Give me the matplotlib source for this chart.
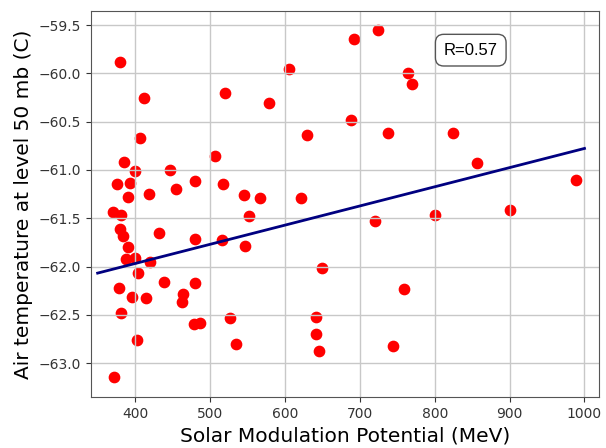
import numpy as np
import matplotlib
matplotlib.use('Agg')
import matplotlib.pyplot as plt

# Solar modulation potential (MeV) and air temperature at 50 mb (C)
phi = [380, 605, 412, 520, 579, 407, 629, 385, 400, 446, 507, 376, 393, 480,
       454, 517, 419, 391, 545, 567, 621, 370, 381, 552, 380, 384, 432, 480,
       516, 547, 390, 388, 400, 420, 404, 649, 378, 439, 480, 396, 415, 464,
       463, 381, 527, 641, 478, 487, 642, 402, 535, 646, 372, 692, 724, 764,
       770, 688, 737, 824, 856, 988, 720, 800, 900, 759, 744]
temp = [-59.88, -59.95, -60.25, -60.20, -60.31, -60.67, -60.64, -60.92, -61.01,
        -61.00, -60.86, -61.15, -61.14, -61.11, -61.20, -61.15, -61.25, -61.28,
        -61.26, -61.29, -61.29, -61.43, -61.47, -61.48, -61.61, -61.68, -61.65,
        -61.71, -61.72, -61.79, -61.80, -61.92, -61.91, -61.95, -62.07, -62.02,
        -62.22, -62.16, -62.17, -62.32, -62.33, -62.28, -62.37, -62.48, -62.53,
        -62.52, -62.60, -62.58, -62.70, -62.76, -62.80, -62.87, -63.14, -59.64,
        -59.55, -60.00, -60.11, -60.48, -60.62, -60.62, -60.93, -61.10, -61.53,
        -61.47, -61.41, -62.23, -62.82]
r_value = 0.57

# linear fit coefficients (temp = slope * phi + intercept)
fit_slope = 0.001986
fit_intercept = -62.763

x = np.array(phi)
y = np.array(temp)
xfit = np.linspace(350, 1000, 50)

fig = plt.figure(figsize=(6.06, 4.48), dpi=100)
ax = fig.add_axes([0.150, 0.114, 0.838, 0.861])

ax.scatter(x, y, color='red', s=55)
ax.plot(xfit, fit_slope * xfit + fit_intercept, color='navy', linewidth=2)
ax.grid(True, color='#c8c8c8', linewidth=1)
ax.set_xlim(341, 1019)
ax.set_ylim(-63.35, -59.356)

ax.set_xlabel('Solar Modulation Potential (MeV)', fontsize=14.5)
ax.set_ylabel('Air temperature at level 50 mb (C)', fontsize=14.5)
ax.tick_params(labelsize=10, colors='#333333')
for s in ax.spines.values():
    s.set_color('#555555')

ax.text(0.748, 0.899, 'R=%.2f' % r_value, transform=ax.transAxes,
        ha='center', va='center', fontsize=12, family='Liberation Sans',
        bbox=dict(boxstyle='round,pad=0.5', facecolor='white', edgecolor='#555555'))

plt.savefig('out.png')
plt.close()
